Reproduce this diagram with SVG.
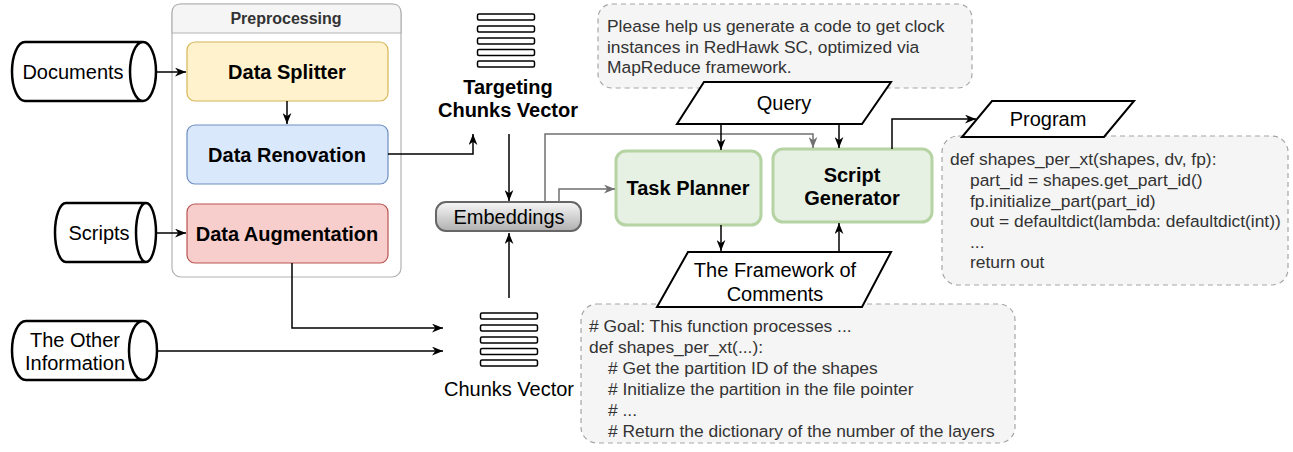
<svg xmlns="http://www.w3.org/2000/svg" width="1293" height="452" viewBox="0 0 1293 452">
<style>
text{font-family:"Liberation Sans",Arial,Helvetica,sans-serif;fill:#000}
.lbl{font-size:20px;text-anchor:middle}
.bold{font-size:20px;font-weight:bold;text-anchor:middle}
.code{font-size:17.4px;fill:#333}
.cyl{fill:#fff;stroke:#000;stroke-width:2.5}
.bar{fill:#fff;stroke:#000;stroke-width:1.5}
.para{fill:#fff;stroke:#000;stroke-width:2}
.note{fill:#f5f5f5;stroke:#a6a6a6;stroke-width:1.2;stroke-dasharray:5 4}
.green{fill:#e6f0e3;stroke:#b5d3a3;stroke-width:3}
.c{fill:none;stroke:#000;stroke-width:1.5}
.g{fill:none;stroke:#707070;stroke-width:1.5}
</style>
<defs>
<marker id="ab" viewBox="0 0 10 8" refX="10" refY="4" markerWidth="11" markerHeight="9" markerUnits="userSpaceOnUse" orient="auto"><path d="M0,0 L10,4 L0,8 L3,4 Z" fill="#000"/></marker>
<marker id="ag" viewBox="0 0 10 8" refX="10" refY="4" markerWidth="11" markerHeight="9" markerUnits="userSpaceOnUse" orient="auto"><path d="M0,0 L10,4 L0,8 L3,4 Z" fill="#707070"/></marker>
<linearGradient id="emb" x1="0" y1="0" x2="0" y2="1"><stop offset="0" stop-color="#f7f7f7"/><stop offset="1" stop-color="#b0b0b0"/></linearGradient>
</defs>

<g id="preprocessing">
<rect x="172" y="4" width="229" height="273" rx="9" fill="#fff" stroke="#b3b3b3" stroke-width="1.2"/>
<path d="M172,33 L172,13 Q172,4 181,4 L392,4 Q401,4 401,13 L401,33 Z" fill="#f5f5f5" stroke="#b3b3b3" stroke-width="1.2"/>
<text x="286" y="24" style="font-size:16px;font-weight:bold;text-anchor:middle;fill:#333">Preprocessing</text>
</g>

<g id="data-splitter">
<rect x="187" y="42" width="201" height="59" rx="8" fill="#fff2cc" stroke="#d6b656" stroke-width="1.2"/>
<text class="bold" x="287" y="79">Data Splitter</text>
</g>
<g id="data-renovation">
<rect x="187" y="125" width="201" height="59" rx="8" fill="#dae8fc" stroke="#6c8ebf" stroke-width="1.2"/>
<text class="bold" x="287" y="162">Data Renovation</text>
</g>
<g id="data-augmentation">
<rect x="187" y="204" width="201" height="59" rx="8" fill="#f8cecc" stroke="#b85450" stroke-width="1.2"/>
<text class="bold" x="287" y="241">Data Augmentation</text>
</g>

<g id="documents">
<path class="cyl" d="M25,42 L143,42 A13,29.5 0 0 1 143,101 L25,101 A13,29.5 0 0 1 25,42 Z M143,42 A13,29.5 0 0 0 143,101"/>
<text class="lbl" x="73" y="79">Documents</text>
</g>
<g id="scripts">
<path class="cyl" d="M66,203 L146,203 A10,29.5 0 0 1 146,262 L66,262 A11,29.5 0 0 1 66,203 Z M146,203 A10,29.5 0 0 0 146,262"/>
<text class="lbl" x="99" y="240">Scripts</text>
</g>
<g id="other-information">
<path class="cyl" d="M26,321 L143,321 A14,29.5 0 0 1 143,380 L26,380 A14,29.5 0 0 1 26,321 Z M143,321 A14,29.5 0 0 0 143,380"/>
<text class="lbl" x="75" y="347">The Other</text>
<text class="lbl" x="75" y="370">Information</text>
</g>

<g id="targeting-chunks-vector">
<rect class="bar" x="477.5" y="14" width="57" height="6" rx="1.5"/>
<rect class="bar" x="477.5" y="26" width="57" height="6" rx="1.5"/>
<rect class="bar" x="477.5" y="38" width="57" height="6" rx="1.5"/>
<rect class="bar" x="477.5" y="49.5" width="57" height="6" rx="1.5"/>
<rect class="bar" x="477.5" y="61" width="57" height="6" rx="1.5"/>
<text class="bold" x="508" y="94">Targeting</text>
<text class="bold" x="508" y="117">Chunks Vector</text>
</g>

<g id="chunks-vector">
<rect class="bar" x="480.5" y="313" width="57" height="6" rx="1.5"/>
<rect class="bar" x="480.5" y="325" width="57" height="6" rx="1.5"/>
<rect class="bar" x="480.5" y="337" width="57" height="6" rx="1.5"/>
<rect class="bar" x="480.5" y="348.5" width="57" height="6" rx="1.5"/>
<rect class="bar" x="480.5" y="360" width="57" height="6" rx="1.5"/>
<text class="lbl" x="509" y="396">Chunks Vector</text>
</g>

<g id="embeddings">
<rect x="436" y="202" width="145" height="29" rx="10" fill="url(#emb)" stroke="#666" stroke-width="2"/>
<text class="lbl" x="509" y="224">Embeddings</text>
</g>

<g id="query-note">
<rect class="note" x="598" y="4" width="374" height="84" rx="14"/>
<text class="code" x="607" y="32">Please help us generate a code to get clock</text>
<text class="code" x="607" y="53">instances in RedHawk SC, optimized via</text>
<text class="code" x="607" y="73">MapReduce framework.</text>
</g>

<g id="query">
<path class="para" d="M704,82 L891,82 L862,124 L677,124 Z"/>
<text class="lbl" x="784" y="110">Query</text>
</g>

<g id="task-planner">
<rect class="green" x="616" y="151" width="145" height="74" rx="10"/>
<text class="bold" x="688" y="195">Task Planner</text>
</g>

<g id="script-generator">
<rect class="green" x="773" y="149" width="159" height="73" rx="10"/>
<text class="bold" x="852" y="182">Script</text>
<text class="bold" x="852" y="205">Generator</text>
</g>

<g id="framework-note">
<rect class="note" x="581" y="304" width="434" height="139" rx="16"/>
<text class="code" x="589" y="332"># Goal: This function processes ...</text>
<text class="code" x="589" y="353">def shapes_per_xt(...):</text>
<text class="code" x="608" y="374"># Get the partition ID of the shapes</text>
<text class="code" x="608" y="395"># Initialize the partition in the file pointer</text>
<text class="code" x="608" y="416"># ...</text>
<text class="code" x="608" y="437"># Return the dictionary of the number of the layers</text>
</g>

<g id="framework">
<path class="para" d="M688,252 L891,252 L862,307 L657,307 Z"/>
<text class="lbl" x="775" y="277">The Framework of</text>
<text class="lbl" x="775" y="301">Comments</text>
</g>

<g id="program-note">
<rect class="note" x="942" y="136" width="346" height="149" rx="16"/>
<text class="code" x="950" y="165">def shapes_per_xt(shapes, dv, fp):</text>
<text class="code" x="970" y="186">part_id = shapes.get_part_id()</text>
<text class="code" x="970" y="207">fp.initialize_part(part_id)</text>
<text class="code" x="970" y="227">out = defaultdict(lambda: defaultdict(int))</text>
<text class="code" x="970" y="248">...</text>
<text class="code" x="970" y="268">return out</text>
</g>

<g id="program">
<path class="para" d="M992,101 L1134,101 L1104,137 L962,137 Z"/>
<text class="lbl" x="1048" y="126">Program</text>
</g>

<g id="connectors">
<path class="c" d="M156,72 L186,72" marker-end="url(#ab)"/>
<path class="c" d="M156,233 L186,233" marker-end="url(#ab)"/>
<path class="c" d="M287,101 L287,124" marker-end="url(#ab)"/>
<path class="c" d="M388,154 L473,154 L473,134" marker-end="url(#ab)"/>
<path class="c" d="M292,263 L292,328 L443,328" marker-end="url(#ab)"/>
<path class="c" d="M157,351 L443,351" marker-end="url(#ab)"/>
<path class="c" d="M509,134 L509,201" marker-end="url(#ab)"/>
<path class="c" d="M509,298 L509,233" marker-end="url(#ab)"/>
<path class="g" d="M545,202 L545,134 L813,134 L813,148" marker-end="url(#ag)"/>
<path class="g" d="M559,202 L559,189 L615,189" marker-end="url(#ag)"/>
<path class="c" d="M721,124 L721,150" marker-end="url(#ab)"/>
<path class="c" d="M839,124 L839,148" marker-end="url(#ab)"/>
<path class="c" d="M721,225 L721,251" marker-end="url(#ab)"/>
<path class="c" d="M839,252 L839,223" marker-end="url(#ab)"/>
<path class="c" d="M892,149 L892,119 L976,119" marker-end="url(#ab)"/>
</g>
</svg>
